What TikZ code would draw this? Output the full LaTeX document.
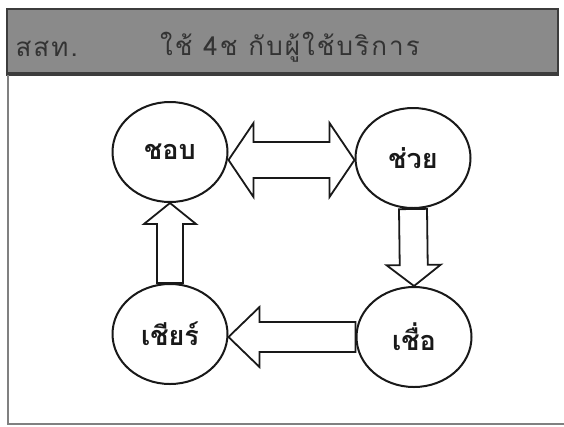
\documentclass[tikz,border=0pt]{standalone}
\usepackage{fontspec}
\newfontfamily\thaifont[Script=Thai]{Loma}
\newfontfamily\thaiwide[Script=Thai,LetterSpace=8]{Loma}
\usetikzlibrary{calc,shapes.geometric}
\definecolor{band}{RGB}{138,138,138}
\definecolor{bandedge}{RGB}{60,60,60}
\definecolor{ink}{RGB}{25,25,25}
\tikzset{
  circ/.style={ellipse,draw=ink,line width=2pt,minimum width=115pt,minimum height=100pt,inner sep=0pt,font=\thaifont\bfseries\fontsize{27}{30}\selectfont,text=ink},
  blk/.style={draw=ink,line width=1.8pt,fill=white,line join=miter},
  head/.style={font=\thaiwide\fontsize{26}{30}\selectfont,text=black!80},
}
% single block arrow: #1 tail, #2 tip, #3 shaft half width, #4 head half width, #5 head length
\newcommand{\blockarrowone}[5]{%
  \coordinate (n) at ($(#2)!#5!(#1)$);
  \draw[blk] ($(#1)!#3!90:(#2)$) -- ($(n)!#3!-90:(#1)$) -- ($(n)!#4!-90:(#1)$) -- (#2)
    -- ($(n)!#4!90:(#1)$) -- ($(n)!#3!90:(#1)$) -- ($(#1)!#3!-90:(#2)$) -- cycle;}
% double block arrow
\newcommand{\blockarrowtwo}[5]{%
  \coordinate (n) at ($(#2)!#5!(#1)$);
  \coordinate (m) at ($(#1)!#5!(#2)$);
  \draw[blk] (#1) -- ($(m)!#4!90:(#2)$) -- ($(m)!#3!90:(#2)$) -- ($(n)!#3!-90:(#1)$) -- ($(n)!#4!-90:(#1)$) -- (#2)
    -- ($(n)!#4!90:(#1)$) -- ($(n)!#3!90:(#1)$) -- ($(m)!#3!-90:(#2)$) -- ($(m)!#4!-90:(#2)$) -- cycle;}
\begin{document}
\begin{tikzpicture}[x=1pt,y=-1pt]
\useasboundingbox[fill=white] (0,0) rectangle (564,426);
% header band
\fill[band] (7,9) rectangle (558,75);
\draw[bandedge,line width=1.2pt] (7,9) rectangle (558,75);
\draw[bandedge,line width=2.5pt] (7,73) -- (558,73);
\node[anchor=west,head] (org) at (12,49) {สสท.};
\node[head] (title) at (290,47) {ใช้ 4ช กับผู้ใช้บริการ};
% frame
\draw[gray,line width=1.2pt] (8,75) -- (8,424) -- (564,424);
% circles
\node[circ] (chob) at (170,152) {ชอบ};
\node[circ] (chuay) at (413,158) {ช่วย};
\node[circ] (cheer) at (170,334) {เชียร์};
\node[circ] (chuea) at (414,337) {เชื่อ};
% arrows
\coordinate (a1) at (chob.east |- 0,160);
\coordinate (a2) at (chuay.west |- 0,160);
\blockarrowtwo{a1}{a2}{18pt}{37pt}{25pt}
\coordinate (b1) at (chuay.south);
\coordinate (b2) at (chuea.north);
\blockarrowone{b1}{b2}{14pt}{27pt}{21pt}
\coordinate (c1) at (chuea.west);
\coordinate (c2) at (cheer.east |- chuea.west);
\blockarrowone{c1}{c2}{15pt}{30pt}{31pt}
\coordinate (d1) at (cheer.north);
\coordinate (d2) at (chob.south);
\blockarrowone{d1}{d2}{13pt}{26pt}{21pt}
\end{tikzpicture}
\end{document}
